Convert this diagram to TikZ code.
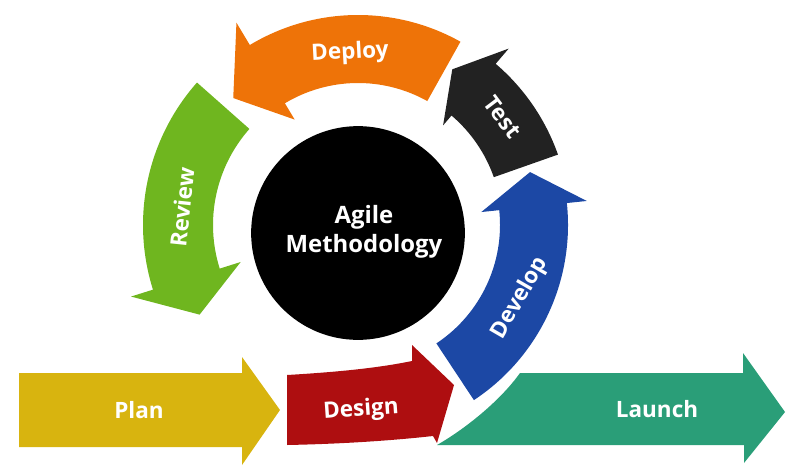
\documentclass[tikz,border=0pt]{standalone}
\usepackage{fontspec}
\setmainfont{Open Sans}
\definecolor{planyellow}{HTML}{D8B40F}
\definecolor{designred}{HTML}{AE0E10}
\definecolor{developblue}{HTML}{1C48A5}
\definecolor{testblack}{HTML}{222222}
\definecolor{deployorange}{HTML}{EE7308}
\definecolor{reviewgreen}{HTML}{6FB61F}
\definecolor{launchteal}{HTML}{2A9E78}
\begin{document}
\begin{tikzpicture}[
  x=0.025cm,y=0.025cm,
  lbl/.style={text=white,font=\bfseries\fontsize{16}{20}\selectfont,inner sep=0pt},
  hub/.style={circle,fill=black,minimum size=152pt,inner sep=0pt}
]
  \useasboundingbox (0,0) rectangle (800,469);

  % straight arrows
  \fill[planyellow] (19,96) -- (242,96) -- (242,112) -- (280,59) -- (242,4) -- (242,22) -- (19,22) -- cycle;
  \fill[launchteal] (437,24) .. controls (465,40) and (500,68) .. (520,96) -- (743,96) -- (743,116) -- (785,57) -- (744,6) -- (744,24) -- cycle;

  % the cycle
  \begin{scope}[shift={(358,244)}]
    \fill[designred] (-71,-150) .. controls (-20,-147) and (20,-143) .. (54,-136) -- (54,-120) -- (96,-160) -- (79,-218) -- (75,-211) .. controls (30,-216) and (-20,-219) .. (-71,-220) -- cycle;
    \fill[developblue] (-56.5:142) arc[start angle=-56.5,end angle=6,radius=142] -- (6:124) -- (17.1:180) -- (6:230) -- (6:210) arc[start angle=6,end angle=-56.5,radius=210] -- cycle;
    \fill[testblack] (19.4:144) arc[start angle=19.4,end angle=49.5,radius=144] -- (49.5:131) -- (58.8:182) -- (49.5:232) -- (49.5:212) arc[start angle=49.5,end angle=19.4,radius=212] -- cycle;
    \fill[deployorange] (60.8:142) arc[start angle=60.8,end angle=121,radius=142] -- (121:123) -- (134.5:178) -- (121:236) -- (121:210) arc[start angle=121,end angle=60.8,radius=210] -- cycle;
    \fill[reviewgreen] (138.5:145) arc[start angle=138.5,end angle=197.5,radius=145] -- (197.5:123) -- (209.5:182) -- (197.5:238) -- (197.5:215) arc[start angle=197.5,end angle=138.5,radius=215] -- cycle;
  \end{scope}

  \node[hub] (hub) at (358,236) {};
  \node[lbl,align=center,font=\bfseries\fontsize{17}{21}\selectfont] (agile) at (364,237) {Agile\\Methodology};

  \node[lbl] (plan) at (139,59) {Plan};
  \node[lbl,rotate=4] (design) at (361,59) {Design};
  \node[lbl,rotate=60] (develop) at (520,171) {Develop};
  \node[lbl,rotate=-53] (test) at (503,352) {Test};
  \node[lbl,rotate=3] (deploy) at (350,416) {Deploy};
  \node[lbl,rotate=84] (review) at (182,262) {Review};
  \node[lbl] (launch) at (657,60) {Launch};
\end{tikzpicture}
\end{document}
